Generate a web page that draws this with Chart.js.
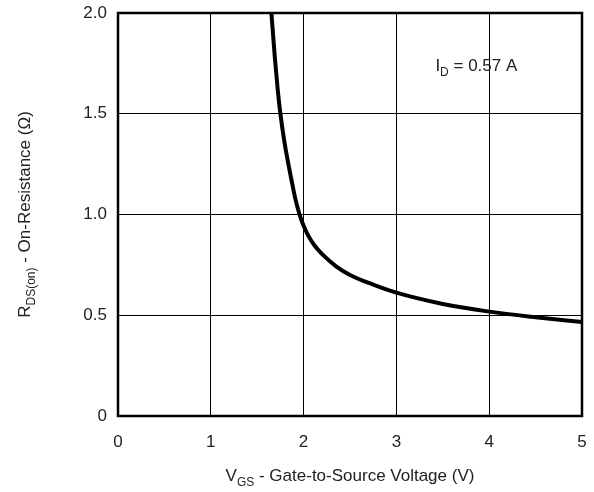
<!DOCTYPE html>
<html>
<head>
<meta charset="utf-8">
<script src="https://cdn.jsdelivr.net/npm/chart.js@4/dist/chart.umd.min.js"></script>
<style>
    html, body { margin: 0; padding: 0; background: #fff; }
</style>
</head>
<body>
<canvas id="grafico" width="594" height="492"></canvas>
<script>
// valores
const tensaoGS = [1.653, 1.69, 1.72, 1.75, 1.79, 1.83, 1.87, 1.91, 1.95, 1.99, 2.05, 2.12, 2.2, 2.35, 2.5, 2.75, 3.0, 3.5, 4.0, 4.5, 5.0];
const resistencia = [2.0, 1.78, 1.625, 1.50, 1.37, 1.265, 1.17, 1.08, 1.01, 0.955, 0.895, 0.845, 0.803, 0.743, 0.70, 0.652, 0.612, 0.556, 0.518, 0.49, 0.466];
const ticksX = [0, 1, 2, 3, 4, 5];
const ticksY = [0, 0.5, 1.0, 1.5, 2.0];

const fonte = "'Liberation Sans', Arial, Helvetica, sans-serif";
const corTexto = "#222";

// escreve texto com partes em subscrito
function escreverComSub(ctx, partes, x, y, alinhamento) {
    const tamNormal = 17;
    const tamSub = 12;
    let largura = 0;
    partes.forEach(p => {
        ctx.font = `${p.sub ? tamSub : tamNormal}px ${fonte}`;
        largura += ctx.measureText(p.t).width;
    });
    let inicio = x;
    if (alinhamento == "center") inicio = x - largura / 2;
    ctx.textBaseline = "alphabetic";
    ctx.textAlign = "left";
    ctx.fillStyle = corTexto;
    partes.forEach(p => {
        ctx.font = `${p.sub ? tamSub : tamNormal}px ${fonte}`;
        ctx.fillText(p.t, inicio, p.sub ? y + 5 : y);
        inicio += ctx.measureText(p.t).width;
    });
}

const pluginMoldura = {
    id: "moldura",
    afterDraw(chart) {
        const ctx = chart.ctx;
        const area = chart.chartArea;
        ctx.save();
        ctx.strokeStyle = "#000";
        ctx.lineWidth = 2.5;
        ctx.strokeRect(area.left, area.top, area.right - area.left, area.bottom - area.top);

        // titulo do eixo x
        escreverComSub(ctx, [{ t: "V" }, { t: "GS", sub: true }, { t: " - Gate-to-Source Voltage (V)" }],
            (area.left + area.right) / 2, 481, "center");

        // titulo do eixo y
        ctx.save();
        ctx.translate(30, (area.top + area.bottom) / 2);
        ctx.rotate(-Math.PI / 2);
        escreverComSub(ctx, [{ t: "R" }, { t: "DS(on)", sub: true }, { t: " - On-Resistance (\u03A9)" }], 0, 0, "center");
        ctx.restore();

        // anotacao
        const xs = chart.scales.x;
        const ys = chart.scales.y;
        escreverComSub(ctx, [{ t: "I" }, { t: "D", sub: true }, { t: " = 0.57 A" }],
            xs.getPixelForValue(3.42), ys.getPixelForValue(1.711), "left");
        ctx.restore();
    }
};

const ctx = document.querySelector("#grafico");

const chart = new Chart(ctx, {
    type: "scatter",
    data: {
        datasets: [{
            label: "RDS(on)",
            data: tensaoGS.map((v, i) => ({ x: v, y: resistencia[i] })),
            showLine: true,
            borderColor: "#000",
            backgroundColor: "#000",
            borderWidth: 4,
            pointRadius: 0,
            cubicInterpolationMode: "monotone",
            clip: 2
        }]
    },
    options: {
        responsive: false,
        animation: false,
        devicePixelRatio: 1,
        layout: { padding: { top: 13, right: 12, left: 0, bottom: 0 } },
        plugins: {
            legend: { display: false },
            tooltip: { enabled: false }
        },
        scales: {
            x: {
                type: "linear",
                min: 0,
                max: 5,
                afterFit: scale => {
                    scale.height = 76;
                    scale.paddingLeft = 0;
                    scale.paddingRight = 0;
                },
                afterBuildTicks: scale => { scale.ticks = ticksX.map(v => ({ value: v })); },
                grid: { color: "#000", lineWidth: 1, drawTicks: false },
                border: { display: false },
                ticks: {
                    padding: 16,
                    color: corTexto,
                    font: { family: fonte, size: 17 },
                    callback: v => String(v)
                }
            },
            y: {
                min: 0,
                max: 2,
                afterFit: scale => {
                    scale.width = 118;
                    scale.paddingTop = 0;
                    scale.paddingBottom = 0;
                },
                afterBuildTicks: scale => { scale.ticks = ticksY.map(v => ({ value: v })); },
                grid: { color: "#000", lineWidth: 1, drawTicks: false },
                border: { display: false },
                ticks: {
                    padding: 11,
                    color: corTexto,
                    font: { family: fonte, size: 17 },
                    callback: v => v == 0 ? "0" : v.toFixed(1)
                }
            }
        }
    },
    plugins: [pluginMoldura]
});
</script>
</body>
</html>
